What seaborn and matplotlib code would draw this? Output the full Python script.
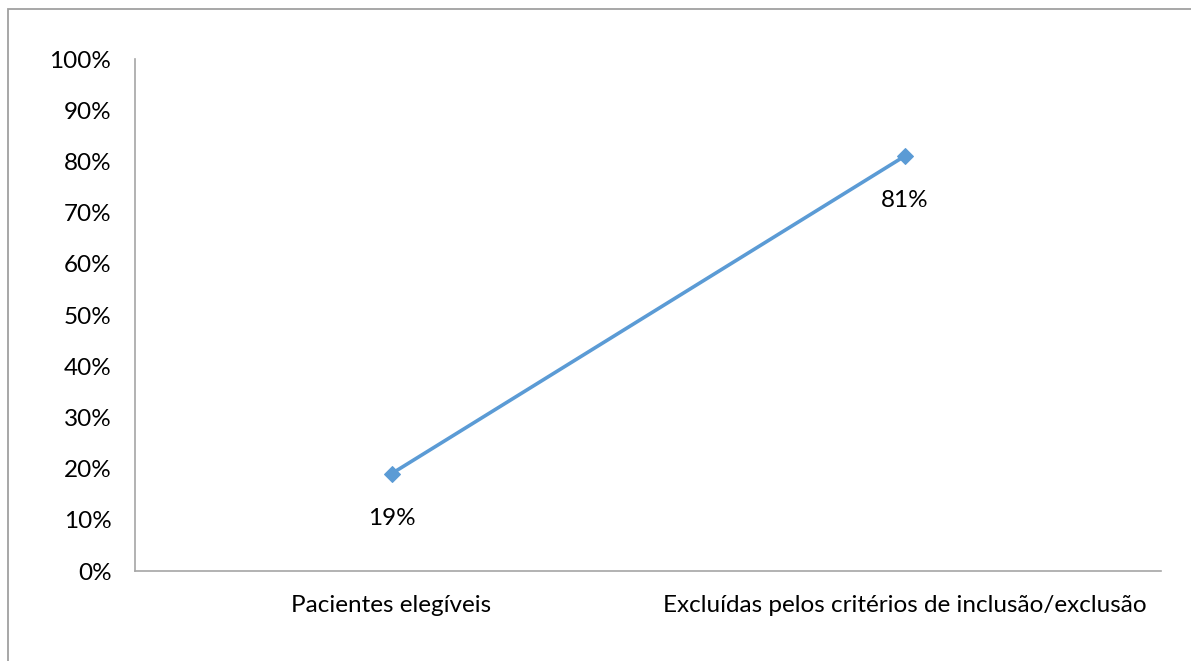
import matplotlib
matplotlib.use("Agg")
import matplotlib.pyplot as plt
import matplotlib.patches as mpatches
import pandas as pd
import seaborn as sns

categories = ["Pacientes elegíveis", "Excluídas pelos critérios de inclusão/exclusão"]
percent_values = [19, 81]
y_ticks = [0, 10, 20, 30, 40, 50, 60, 70, 80, 90, 100]

sns.set_theme(style="white")
plt.rcParams["font.family"] = ["Lato", "DejaVu Sans"]

W, H = 1191, 661
FS = 17.5
fig = plt.figure(figsize=(W / 100, H / 100), dpi=100)
ax = fig.add_axes([135 / W, 1 - 571 / H, (1161 - 135) / W, (571 - 59) / H])

df = pd.DataFrame({"cat": categories, "pct": percent_values})
df["pos"] = range(len(df))
line_color = "#5B9BD5"
sns.lineplot(data=df, x="pos", y="pct", ax=ax, color=line_color, linewidth=2.6,
             marker="D", markersize=8, markeredgecolor=line_color)

for _, row in df.iterrows():
    ax.annotate(f"{row.pct}%", (row.pos, row.pct), xytext=(0, -32),
                textcoords="offset points", ha="center", va="center",
                fontsize=FS, color="black")

ax.set_xlim(-0.5, 1.5)
ax.set_ylim(0, 100)
ax.set_xticks(df["pos"])
ax.set_xticklabels(categories)
ax.set_yticks(y_ticks)
ax.set_yticklabels([f"{t}%" for t in y_ticks])
ax.tick_params(axis="x", length=0, pad=17, labelsize=FS, colors="black")
ax.tick_params(axis="y", length=0, pad=17, labelsize=FS, colors="black")
ax.set_xlabel("")
ax.set_ylabel("")
ax.grid(False)
for side in ["top", "right"]:
    ax.spines[side].set_visible(False)
for side in ["left", "bottom"]:
    ax.spines[side].set_color("#A6A6A6")
    ax.spines[side].set_linewidth(1.2)

# chart area frame
fig.patches.append(mpatches.Rectangle((8 / W, -0.1), 1.2, (1 - 9 / H) + 0.1,
                                      transform=fig.transFigure, fill=False,
                                      edgecolor="#A0A0A0", linewidth=1.3))

fig.savefig("out.png", dpi=100)
